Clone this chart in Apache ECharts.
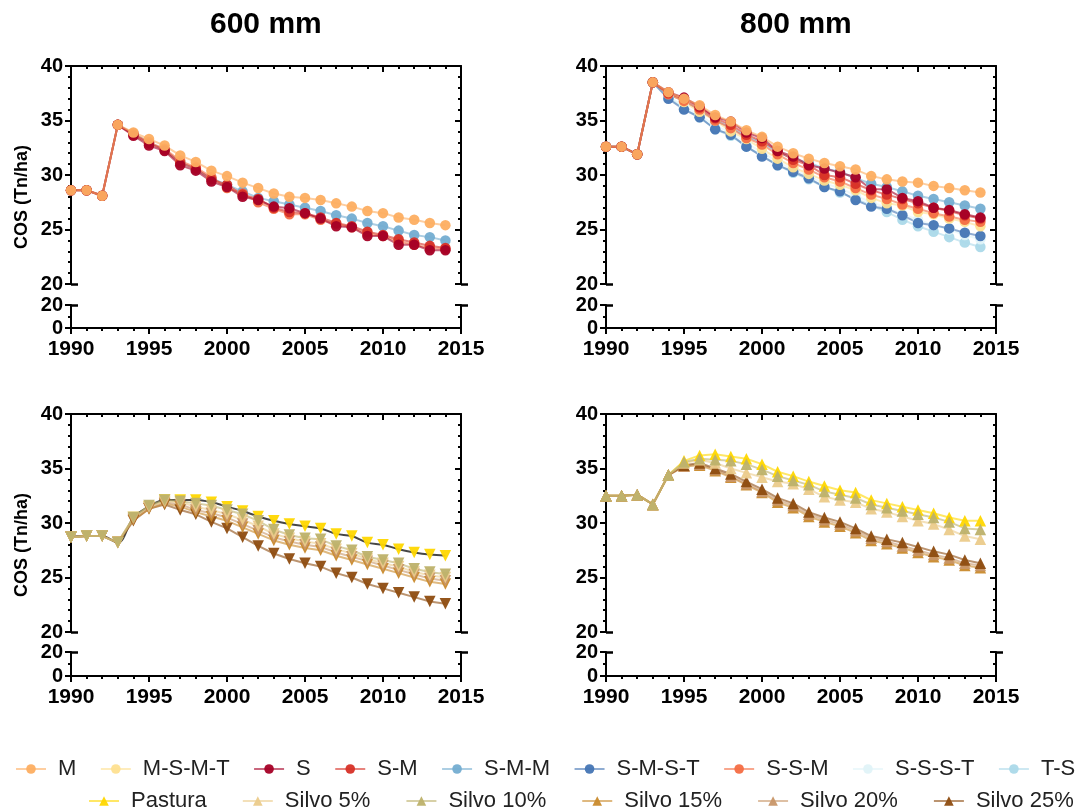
<!DOCTYPE html>
<html><head><meta charset="utf-8">
<script src="https://cdn.jsdelivr.net/npm/echarts@6/dist/echarts.min.js"></script>
<style>html,body{margin:0;padding:0;background:#fff}#c{width:1083px;height:812px}</style>
</head><body><div id="c"></div>
<script>
// ---------- DATA ----------
const years = [1990,1991,1992,1993,1994,1995,1996,1997,1998,1999,2000,2001,2002,2003,2004,2005,2006,2007,2008,2009,2010,2011,2012,2013,2014];
const xTicks = [1990,1995,2000,2005,2010,2015];
const yTicksUpper = [20,25,30,35,40];
const yTicksLower = [0,20];
const panelTitles = ['600 mm','800 mm'];
const yAxisTitle = 'COS (Tn/ha)';

const legendRow1 = ['M','M-S-M-T','S','S-M','S-M-M','S-M-S-T','S-S-M','S-S-S-T','T-S'];
const legendRow2 = ['Pastura','Silvo 5%','Silvo 10%','Silvo 15%','Silvo 20%','Silvo 25%'];

// 600 mm, rotations
const M_600    = [28.6,28.6,28.1,34.6,33.9,33.3,32.7,31.8,31.2,30.4,29.9,29.3,28.8,28.3,28.0,27.9,27.7,27.4,27.1,26.7,26.5,26.1,25.9,25.6,25.4];
const SMM_600  = [28.6,28.6,28.1,34.6,33.8,33.0,32.3,31.2,30.5,29.7,29.1,28.5,27.9,27.6,27.3,27.0,26.7,26.3,26.0,25.6,25.3,24.9,24.5,24.3,24.0];
const SSM_600  = [28.6,28.6,28.1,34.6,33.8,33.0,32.4,31.3,30.7,29.8,28.8,28.3,27.5,26.9,26.4,26.4,25.9,25.5,25.2,24.6,24.4,23.9,23.6,23.3,23.2];
const SM_600   = [28.6,28.6,28.1,34.6,33.7,32.9,32.3,31.1,30.6,29.6,29.1,28.2,27.8,27.0,26.6,26.5,26.1,25.6,25.3,24.8,24.5,24.1,23.8,23.5,23.3];
const S_600    = [28.6,28.6,28.1,34.6,33.6,32.7,32.2,30.9,30.4,29.4,28.9,28.0,27.7,27.1,26.95,26.5,26.0,25.3,25.2,24.4,24.4,23.6,23.6,23.1,23.1];

// 800 mm, rotations
const M_800    = [32.6,32.6,31.9,38.5,37.6,37.0,36.4,35.5,34.9,34.1,33.5,32.6,32.0,31.5,31.1,30.8,30.5,29.9,29.6,29.4,29.3,29.0,28.8,28.6,28.4];
const S_800    = [32.6,32.6,31.9,38.5,37.6,37.1,36.3,35.3,34.9,33.9,33.4,32.2,31.7,30.9,30.6,30.2,29.8,28.7,28.7,27.9,27.6,27.0,26.8,26.4,26.1];
const SM_800   = [32.6,32.6,31.9,38.5,37.5,37.0,36.2,35.2,34.6,33.7,33.1,32.2,31.4,30.9,30.0,29.8,29.2,28.6,28.2,27.8,27.4,27.0,26.7,26.3,26.0];
const SSM_800  = [32.6,32.6,31.9,38.5,37.4,36.8,36.0,35.0,34.3,33.4,32.8,31.9,31.1,30.5,29.8,29.4,28.8,28.2,27.8,27.3,26.9,26.5,26.2,25.9,25.7];
const SMM_800  = [32.6,32.6,31.9,38.5,37.4,36.8,36.0,35.0,34.4,33.5,33.0,32.1,31.5,31.1,30.6,30.3,29.7,29.2,28.9,28.5,28.1,27.8,27.5,27.2,26.9];
const MSMT_800 = [32.6,32.6,31.9,38.5,37.5,36.7,35.8,35.0,34.0,33.3,32.4,31.5,30.7,30.1,29.5,29.1,28.6,27.9,27.4,27.2,26.6,26.4,26.0,25.7,25.3];
const SMST_800 = [32.6,32.6,31.9,38.5,37.0,36.0,35.3,34.2,33.7,32.6,31.7,30.9,30.3,29.7,28.9,28.5,27.7,27.1,26.9,26.3,25.6,25.4,25.1,24.7,24.4];
const SSST_800 = [32.6,32.6,31.9,38.5,37.2,36.3,35.5,34.5,33.9,32.9,32.1,31.2,30.5,29.9,29.2,28.8,28.1,27.5,27.0,26.4,25.9,25.4,25.0,24.5,24.1];
const TS_800   = [32.6,32.6,31.9,38.5,37.1,36.1,35.3,34.2,33.6,32.6,31.8,30.9,30.2,29.6,28.9,28.4,27.8,27.2,26.6,25.9,25.3,24.8,24.3,23.8,23.4];

// 600 mm, pasture / silvopasture
const Past_600 = [28.7,28.8,28.8,28.2,30.5,31.5,32.1,32.1,32.1,31.9,31.5,31.1,30.6,30.2,29.9,29.7,29.5,29.0,28.8,28.2,28.0,27.6,27.3,27.1,27.0];
const S5_600   = [28.7,28.8,28.8,28.2,30.5,31.5,32.0,31.9,31.5,31.2,30.8,30.3,29.7,29.0,28.6,28.3,28.1,27.6,27.2,26.7,26.3,26.0,25.5,25.2,25.0];
const S10_600  = [28.7,28.8,28.8,28.2,30.5,31.6,32.1,32.0,31.8,31.6,31.2,30.8,30.2,29.4,28.9,28.6,28.5,27.9,27.5,26.9,26.6,26.3,25.8,25.5,25.3];
const S15_600  = [28.7,28.8,28.8,28.2,30.3,31.3,31.8,31.5,31.0,30.6,30.2,29.6,29.0,28.4,28.0,27.7,27.5,27.0,26.6,26.2,25.8,25.4,25.0,24.6,24.4];
const S20_600  = [28.7,28.8,28.8,28.2,30.4,31.4,31.9,31.7,31.2,30.9,30.5,29.9,29.3,28.7,28.3,28.0,27.8,27.3,26.9,26.5,26.1,25.7,25.3,24.9,24.7];
const S25_600  = [28.7,28.8,28.8,28.2,30.2,31.3,31.7,31.2,30.8,30.1,29.5,28.7,27.9,27.2,26.7,26.3,26.0,25.4,25.0,24.4,24.0,23.6,23.2,22.8,22.6];

// 800 mm, pasture / silvopasture
const Past_800 = [32.5,32.5,32.6,31.7,34.4,35.7,36.2,36.3,36.1,35.9,35.4,34.7,34.3,33.8,33.4,33.0,32.8,32.1,31.8,31.5,31.2,30.9,30.5,30.2,30.2];
const S5_800   = [32.5,32.5,32.6,31.7,34.4,35.5,35.8,35.5,35.0,34.6,34.2,33.8,33.6,33.1,32.4,32.1,31.9,31.3,31.0,30.6,30.2,29.9,29.4,28.8,28.5];
const S10_800  = [32.5,32.5,32.6,31.7,34.4,35.6,35.9,35.8,35.7,35.4,34.9,34.3,33.9,33.5,32.9,32.6,32.3,31.7,31.4,31.1,30.8,30.5,30.1,29.5,29.4];
const S15_800  = [32.5,32.5,32.6,31.7,34.4,35.2,35.3,34.8,34.2,33.5,32.8,31.9,31.4,30.6,30.1,29.7,29.1,28.4,28.1,27.7,27.3,26.9,26.6,26.1,25.9];
const S20_800  = [32.5,32.5,32.6,31.7,34.4,35.2,35.4,34.9,34.3,33.6,32.9,32.1,31.6,30.8,30.3,29.9,29.3,28.6,28.3,27.9,27.5,27.1,26.8,26.3,26.1];
const S25_800  = [32.5,32.5,32.6,31.7,34.4,35.3,35.5,35.0,34.5,33.8,33.1,32.3,31.8,31.0,30.5,30.1,29.5,28.8,28.5,28.2,27.8,27.4,27.1,26.6,26.3];

// ---------- STYLE ----------
const COL = {
  'M':'#FDAE61','M-S-M-T':'#FEE090','S':'#A50026','S-M':'#D73027','S-M-M':'#74ADD1',
  'S-M-S-T':'#4575B4','S-S-M':'#F46D43','S-S-S-T':'#E0F3F8','T-S':'#ABD9E9',
  'Pastura':'#FFD700','Silvo 5%':'#EBCB8B','Silvo 10%':'#BDB16A','Silvo 15%':'#C98A2C',
  'Silvo 20%':'#C89668','Silvo 25%':'#8E4C10'
};
const FONT = '"Liberation Sans", Arial, sans-serif';
const panels = [
  {left:71,  width:390, upTop:66,  upH:218, lowTop:305, lowH:23},
  {left:606, width:390, upTop:66,  upH:218, lowTop:305, lowH:23},
  {left:71,  width:390, upTop:414, upH:218, lowTop:652, lowH:24},
  {left:606, width:390, upTop:414, upH:218, lowTop:652, lowH:24}
];

const grid = [], xAxis = [], yAxis = [];
const tickLabel = {color:'#000', fontFamily:FONT, fontWeight:'bold', fontSize:20};
panels.forEach((p, i) => {
  grid.push({left:p.left, top:p.upTop, width:p.width, height:p.upH, show:false});
  grid.push({left:p.left, top:p.lowTop, width:p.width, height:p.lowH, show:false});
  const gu = 2*i, gl = 2*i+1;
  const xCommon = {type:'value', min:xTicks[0], max:xTicks[xTicks.length-1], interval:xTicks[1]-xTicks[0], splitLine:{show:false}};
  xAxis.push(Object.assign({}, xCommon, {gridIndex:gu, position:'top',
    axisLine:{show:true, onZero:false, lineStyle:{color:'#000', width:2}},
    axisTick:{show:true, inside:true, length:6, lineStyle:{color:'#000', width:2}},
    minorTick:{show:true, splitNumber:5, length:3, lineStyle:{color:'#000', width:2}},
    axisLabel:{show:false}}));
  xAxis.push(Object.assign({}, xCommon, {gridIndex:gl, position:'bottom',
    axisLine:{show:true, onZero:false, lineStyle:{color:'#000', width:2}},
    axisTick:{show:true, inside:false, length:6, lineStyle:{color:'#000', width:2}},
    minorTick:{show:true, splitNumber:5, length:3, lineStyle:{color:'#000', width:2}},
    axisLabel:Object.assign({show:true, margin:11, formatter: v => String(v)}, tickLabel, {fontSize:21})}));
  [[gu, yTicksUpper, 5], [gl, yTicksLower, 2]].forEach(([g, ticks, ms]) => {
    const yC = {type:'value', gridIndex:g, min:ticks[0], max:ticks[ticks.length-1], interval:ticks[1]-ticks[0], splitLine:{show:false}};
    yAxis.push(Object.assign({}, yC, {position:'left',
      axisLine:{show:true, onZero:false, lineStyle:{color:'#000', width:2}},
      axisTick:{show:true, inside:false, length:6, lineStyle:{color:'#000', width:2}},
      minorTick:{show:true, splitNumber:ms, length:3, lineStyle:{color:'#000', width:2}},
      axisLabel:Object.assign({show:true, margin:8}, tickLabel)}));
    yAxis.push(Object.assign({}, yC, {position:'right',
      axisLine:{show:true, onZero:false, lineStyle:{color:'#000', width:2}},
      axisTick:{show:true, inside:true, length:6, lineStyle:{color:'#000', width:2}},
      minorTick:{show:true, splitNumber:ms, length:3, lineStyle:{color:'#000', width:2}},
      axisLabel:{show:false}}));
    // axis-break marks at 20
    yAxis.push(Object.assign({}, yC, {position:'left', axisLine:{show:false},
      axisTick:{show:true, inside:true, length:7, customValues:[20], lineStyle:{color:'#000', width:2.5}},
      axisLabel:{show:false}}));
    yAxis.push(Object.assign({}, yC, {position:'right', axisLine:{show:false},
      axisTick:{show:true, inside:false, length:7, customValues:[20], lineStyle:{color:'#000', width:2.5}},
      axisLabel:{show:false}}));
  });
});

function mk(panel, name, vals, opt) {
  opt = opt || {};
  const c = COL[name];
  return {
    type:'line', name, xAxisIndex:2*panel, yAxisIndex:8*panel,
    data: years.map((y, k) => [y, vals[k]]),
    symbol: opt.symbol || 'circle', symbolSize: opt.size || 10.5, symbolRotate: opt.rot || 0,
    smooth: opt.smooth || false,
    itemStyle:{color:c, opacity:0.95},
    lineStyle:{color: opt.lineColor || c, width:2, opacity: opt.lineOpacity || 0.6},
    emphasis:{disabled:true}, animation:false
  };
}
const TRI = {symbol:'triangle', size:11.5};
const TRID = {symbol:'triangle', size:11.5, rot:180};

const series = [
  // 800 mm rotations (first so legend takes these styles)
  mk(1,'T-S',TS_800), mk(1,'S-S-S-T',SSST_800), mk(1,'S-M-S-T',SMST_800), mk(1,'S-M-M',SMM_800),
  mk(1,'M-S-M-T',MSMT_800), mk(1,'S-S-M',SSM_800), mk(1,'S-M',SM_800), mk(1,'S',S_800), mk(1,'M',M_800),
  // 600 mm rotations
  mk(0,'S-M-M',SMM_600), mk(0,'S-S-M',SSM_600), mk(0,'S-M',SM_600), mk(0,'S',S_600), mk(0,'M',M_600),
  // 800 mm silvo (triangle up)
  mk(3,'Pastura',Past_800,TRI),
  mk(3,'Silvo 15%',S15_800,TRI), mk(3,'Silvo 20%',S20_800,TRI),
  mk(3,'Silvo 25%',S25_800,TRI), mk(3,'Silvo 5%',S5_800,TRI),
  mk(3,'Silvo 10%',S10_800,TRI),
  // 600 mm silvo (triangle down)
  mk(2,'Pastura',Past_600,Object.assign({lineColor:'#333',lineOpacity:0.9,smooth:0.35}, TRID)),
  mk(2,'Silvo 25%',S25_600,TRID), mk(2,'Silvo 15%',S15_600,TRID),
  mk(2,'Silvo 20%',S20_600,TRID), mk(2,'Silvo 5%',S5_600,TRID),
  mk(2,'Silvo 10%',S10_600,TRID)
];

const legendCommon = {orient:'horizontal', itemWidth:30, itemHeight:12, selectedMode:false, padding:0,
  textStyle:{fontFamily:FONT, fontSize:22, color:'#222', padding:[0,0,0,7]}};

const option = {
  backgroundColor:'#fff', animation:false,
  title: [
    {text:panelTitles[0], left:210, top:10, padding:0, textStyle:{fontFamily:FONT, fontWeight:'bold', fontSize:30, color:'#000'}},
    {text:panelTitles[1], left:740, top:10, padding:0, textStyle:{fontFamily:FONT, fontWeight:'bold', fontSize:30, color:'#000'}}
  ],
  legend: [
    Object.assign({}, legendCommon, {data:legendRow1, left:15, top:758, width:1068, itemGap:23.5}),
    Object.assign({}, legendCommon, {data:legendRow2, left:88, top:790, width:995, itemGap:35})
  ],
  graphic: [
    {type:'text', x:22, y:197, rotation:Math.PI/2, style:{text:yAxisTitle, font:'bold 18px ' + FONT, align:'center', verticalAlign:'middle', fill:'#000'}},
    {type:'text', x:22, y:545, rotation:Math.PI/2, style:{text:yAxisTitle, font:'bold 18px ' + FONT, align:'center', verticalAlign:'middle', fill:'#000'}}
  ],
  grid, xAxis, yAxis, series
};

const chart = echarts.init(document.getElementById('c'), null, {renderer:'canvas'});
chart.setOption(option);
</script>
</body></html>
